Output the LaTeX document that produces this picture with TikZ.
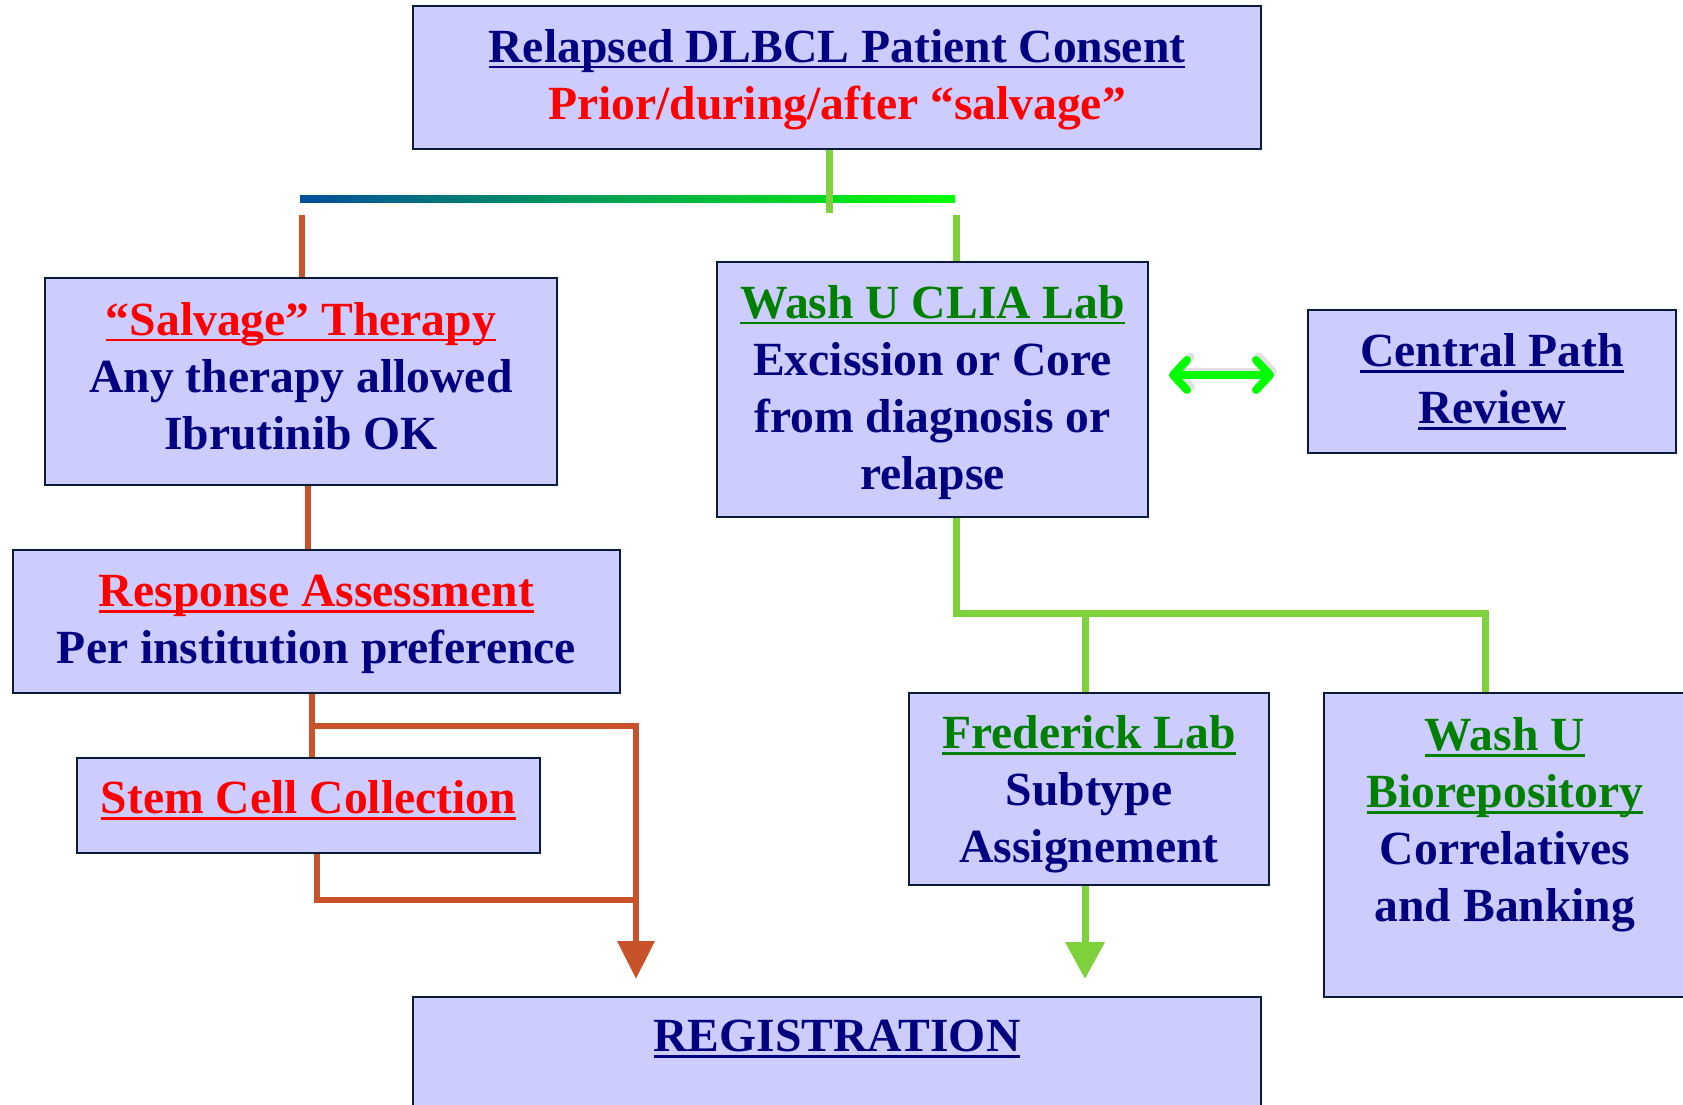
\documentclass[tikz,border=0pt]{standalone}
\usepackage{fontspec}
\setmainfont{Liberation Serif}
\usetikzlibrary{arrows.meta,calc}
\definecolor{boxfill}{RGB}{204,204,255}
\definecolor{boxline}{RGB}{10,26,58}
\definecolor{navy}{RGB}{0,0,128}
\definecolor{dgreen}{RGB}{0,128,0}
\definecolor{oline}{RGB}{200,83,42}
\definecolor{gline}{RGB}{127,209,59}
\definecolor{gblue}{RGB}{0,78,156}
\definecolor{gbright}{RGB}{0,255,0}
\newcommand\ulx[1]{\leavevmode\setbox0\hbox{#1}\rlap{\rule[-6pt]{\wd0}{2.6pt}}\box0}
\begin{document}
\begin{tikzpicture}[x=1pt,y=-1pt,
  box/.style={draw=boxline, fill=boxfill, line width=2pt, inner sep=0pt},
  txt/.style={inner sep=0pt, align=center, font=\fontsize{47.6}{57}\selectfont\bfseries, text=navy},
  orangeline/.style={draw=oline, line width=6.5pt},
  greenline/.style={draw=gline, line width=7pt},
  orangearrow/.style={orangeline, -{Triangle[width=36pt,length=38pt]}},
  greenarrow/.style={greenline, -{Triangle[width=38pt,length=37pt]}},
  dblarrow/.style={draw=gbright, line width=8pt, line cap=round,
    {Straight Barb[round,length=14pt,width=30pt]}-{Straight Barb[round,length=14pt,width=30pt]}}
]
\useasboundingbox (0,0) rectangle (1683,1105);
\fill[white] (0,0) rectangle (1683,1105);

% boxes
\node[box, minimum width=848pt, minimum height=143pt] (top) at (837,77.5) {};
\node[box, minimum width=512pt, minimum height=207pt] (salvage) at (301,381.5) {};
\node[box, minimum width=431pt, minimum height=255pt] (clia) at (932.5,389.5) {};
\node[box, minimum width=368pt, minimum height=143pt] (central) at (1492,381.5) {};
\node[box, minimum width=607pt, minimum height=143pt] (response) at (316.5,621.5) {};
\node[box, minimum width=463pt, minimum height=95pt] (stem) at (308.5,805.5) {};
\node[box, minimum width=360pt, minimum height=192pt] (fred) at (1089,789) {};
\node[box, minimum width=380pt, minimum height=304pt] (bio) at (1514,845) {};
\node[box, minimum width=848pt, minimum height=130pt] (reg) at (837,1062) {};

% texts
\node[txt] (toptext) at (837,79.5)
  {{\ulx{Relapsed DLBCL Patient Consent}}\\{\color{red}Prior/during/after “salvage”}};
\node[txt] (salvagetext) at (301,376)
  {{\color{red}\ulx{“Salvage” Therapy}}\\Any therapy allowed\\Ibrutinib OK};
\node[txt] (cliatext) at (932.5,392.5)
  {{\color{dgreen}\ulx{Wash U CLIA Lab}}\\Excission or Core\\from diagnosis or\\relapse};
\node[txt] (centraltext) at (1492,381.5) {\ulx{Central Path}\\\ulx{Review}};
\node[txt] (responsetext) at (316.5,624.5)
  {{\color{red}\ulx{Response Assessment}}\\Per institution preference};
\node[txt] (stemtext) at (308.5,800) {{\color{red}\ulx{Stem Cell Collection}}};
\node[txt] (fredtext) at (1089,794.5)
  {{\color{dgreen}\ulx{Frederick Lab}}\\Subtype\\Assignement};
\node[txt] (biotext) at (1505,825)
  {{\color{dgreen}\ulx{Wash U}}\\{\color{dgreen}\ulx{Biorepository}}\\Correlatives\\and Banking};
\node[txt] (regtext) at (837,1039) {\ulx{REGISTRATION}};

% gradient bar
\shade[left color=gblue, right color=gbright] (300,195.5) rectangle (955,202.5);

% green from top
\draw[greenline] ([xshift=-8pt]top.south) -- ++(0,63);
\coordinate (gr) at (956,215);
\draw[greenline] (gr) -- (gr |- clia.north);

% orange chain
\coordinate (ol) at (302,215);
\draw[orangeline] (ol) -- (ol |- salvage.north);
\draw[orangeline] ([xshift=7pt]salvage.south) -- ([xshift=7pt]salvage.south |- response.north);
\draw[orangeline] ([xshift=-4.5pt]response.south) -- ([xshift=-4.5pt]response.south |- stem.north);
\coordinate (oj1) at (312,726);
\coordinate (oc) at (636,726);
\coordinate (oj2) at (636,900);
\draw[orangearrow] ([xshift=-3.25pt]oj1) -- (oc) -- ([yshift=17pt]reg.north -| oc);
\draw[orangeline] ([xshift=8.5pt]stem.south) |- (oj2);

% green tree
\coordinate (gj) at (956,613);
\draw[greenline] ([xshift=23.5pt]clia.south) -- (gj) -| ([xshift=-29pt]bio.north);
\draw[greenline] (gj -| fred.north) ++(-4,0) -- ([xshift=-4pt]fred.north);
\coordinate (fa) at (1085,979);
\draw[greenarrow] ([xshift=-4pt]fred.south) -- (fa);

% double arrow
\draw[draw=black, opacity=0.12, line width=9pt, line cap=round,
  {Straight Barb[round,length=14pt,width=30pt]}-{Straight Barb[round,length=14pt,width=30pt]}]
  ([shift={(23,-3)}]clia.east |- 0,375) -- ([shift={(-30,-3)}]central.west |- 0,375);
\draw[dblarrow] ([xshift=20pt]clia.east |- 0,375) -- ([xshift=-33pt]central.west |- 0,375);
\end{tikzpicture}
\end{document}
